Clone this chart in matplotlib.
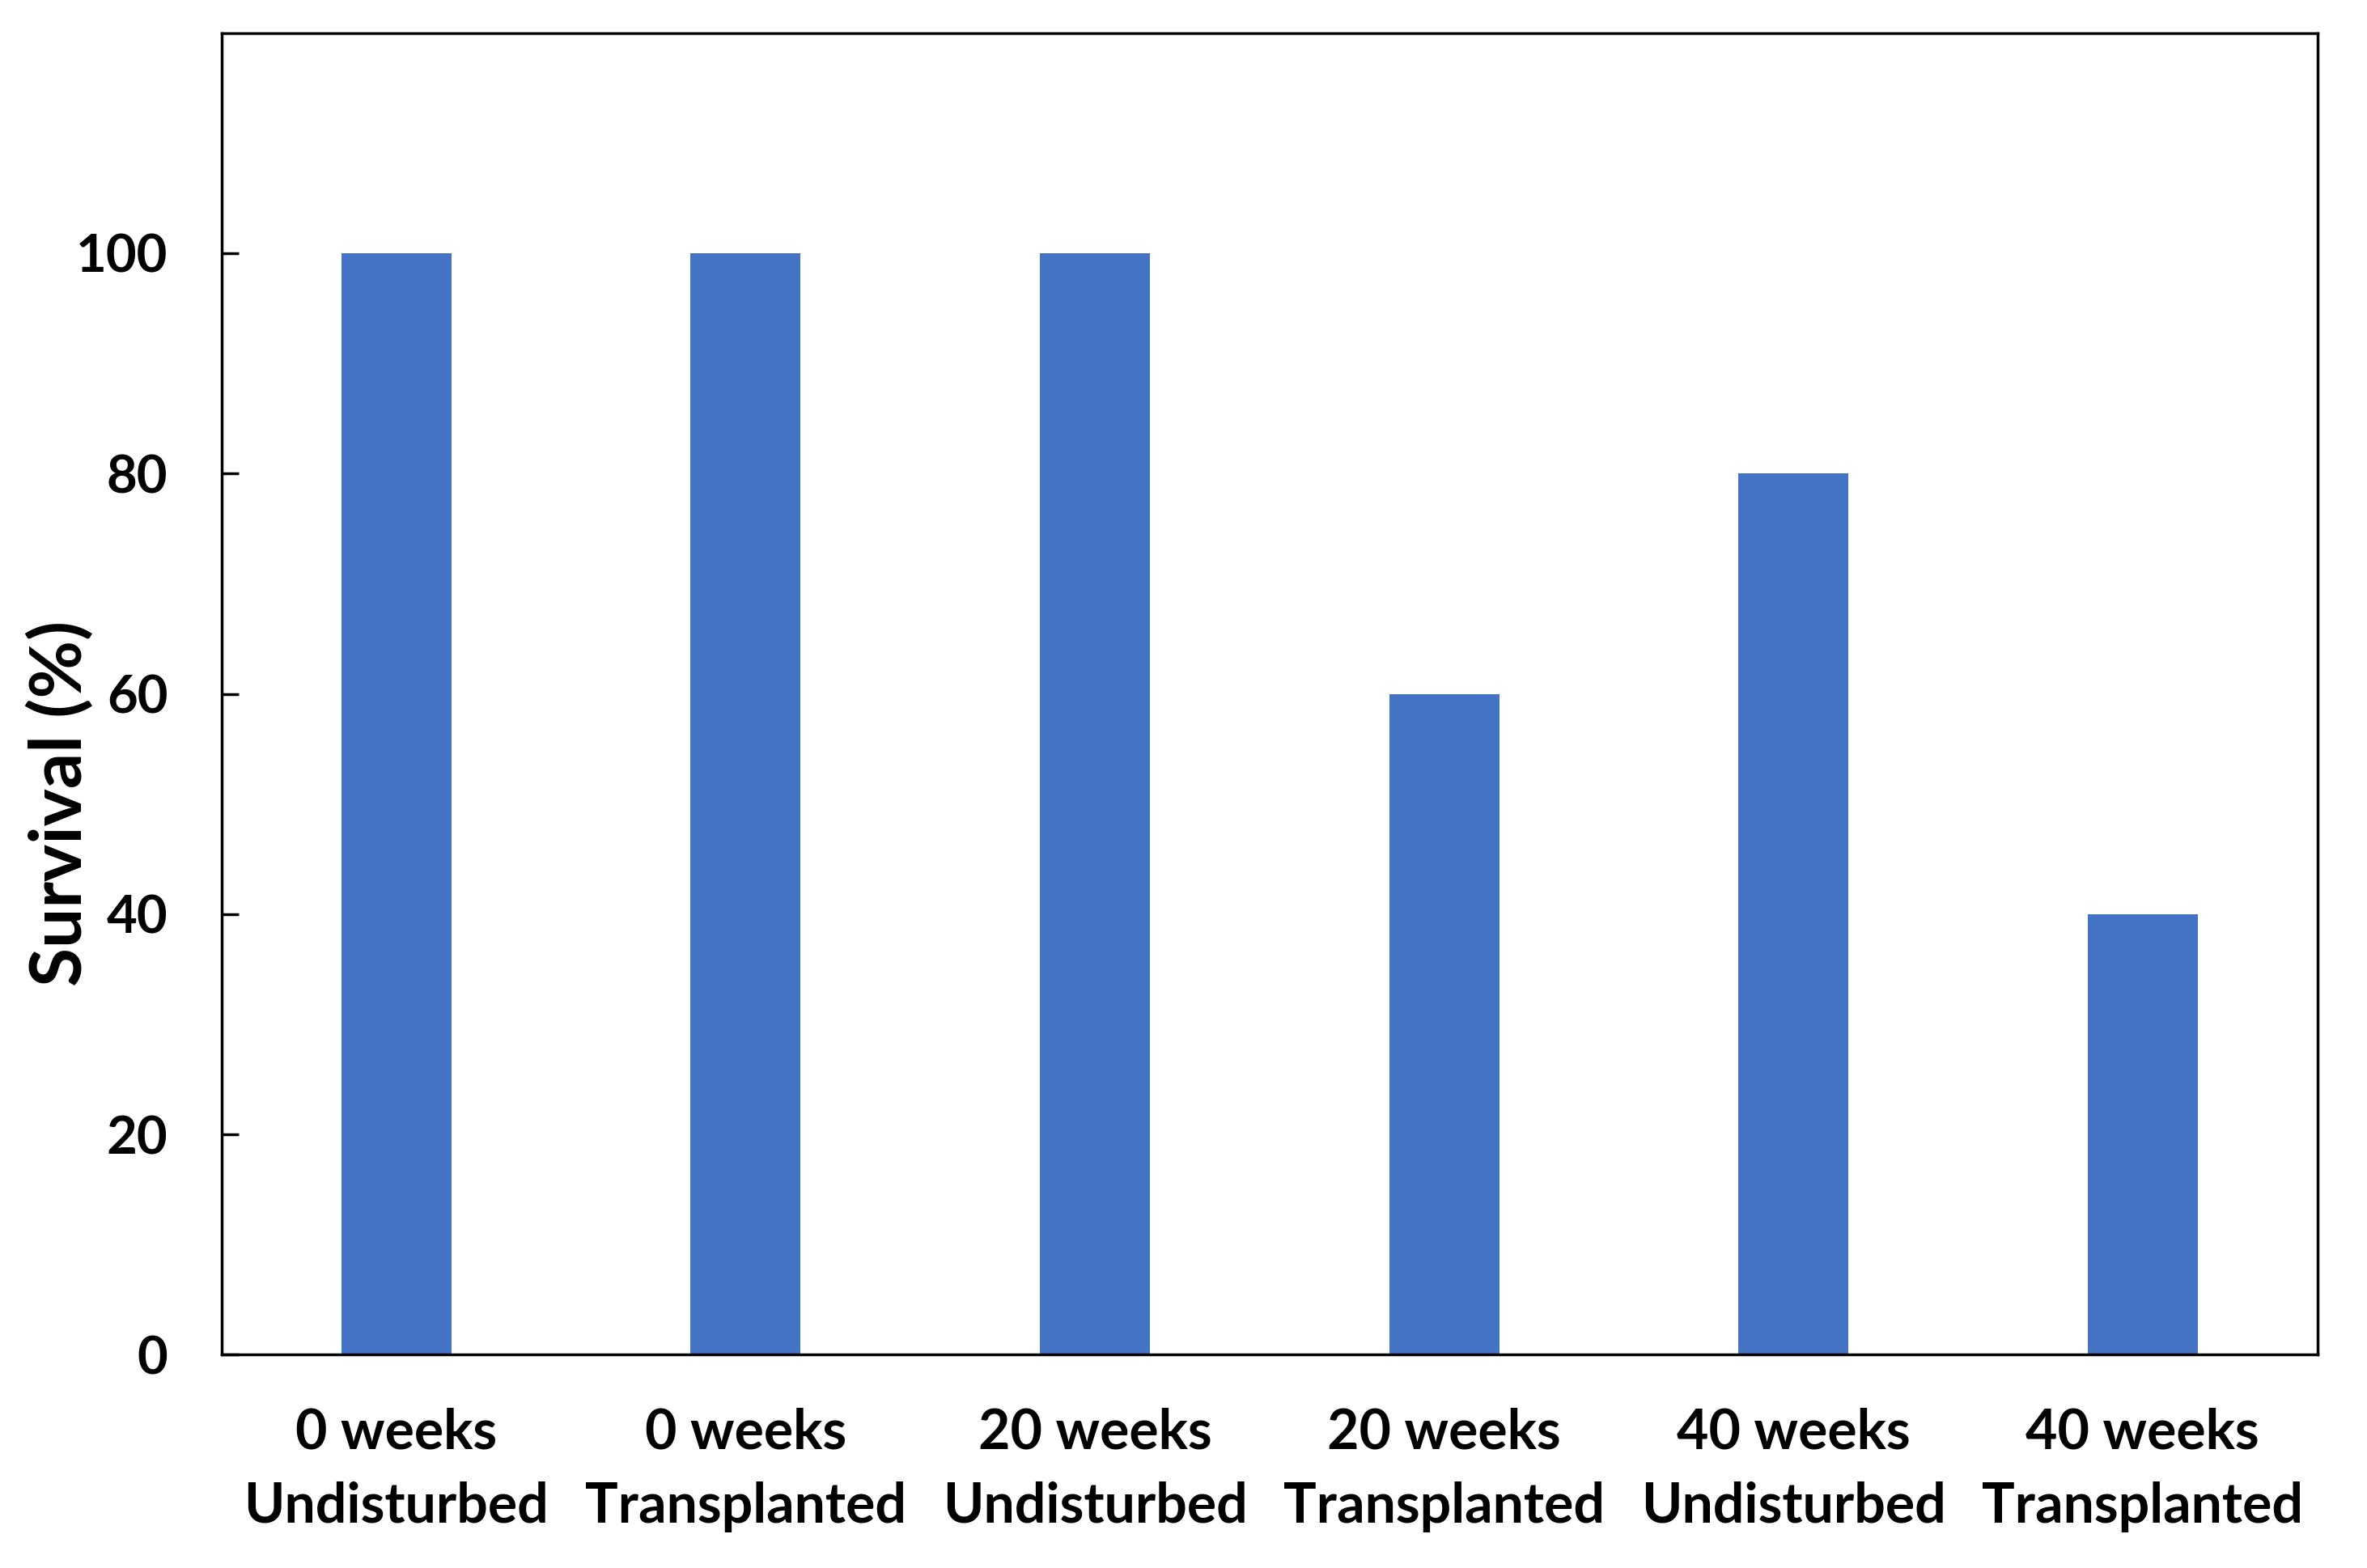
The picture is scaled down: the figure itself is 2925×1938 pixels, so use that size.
import matplotlib
matplotlib.use("Agg")
import matplotlib.pyplot as plt

categories = ["0 weeks\nUndisturbed", "0 weeks\nTransplanted", "20 weeks\nUndisturbed",
              "20 weeks\nTransplanted", "40 weeks\nUndisturbed", "40 weeks\nTransplanted"]
survival = [100, 100, 100, 60, 80, 40]
yticks = [0, 20, 40, 60, 80, 100]

plt.rcParams['font.family'] = ['Lato', 'DejaVu Sans']
plt.rcParams['font.weight'] = 'bold'

fig = plt.figure(figsize=(29.25, 19.38), dpi=100)
ax = fig.add_axes([0.0937, 0.136, 0.979 - 0.0937, 0.979 - 0.136])
x = list(range(len(categories)))
ax.bar(x, survival, width=0.315, color='#4472C4')
ax.set_xlim(-0.5, len(categories) - 0.5)
ax.set_ylim(0, 120)
ax.set_yticks(yticks)
ax.set_yticklabels([str(v) for v in yticks], fontsize=47, fontweight='bold')
ax.set_xticks(x)
ax.set_xticklabels(categories, fontsize=49, fontweight='bold', linespacing=1.55)
ax.tick_params(axis='x', length=0, pad=47)
ax.tick_params(axis='y', direction='in', length=15, width=2.5, pad=48)
for s in ax.spines.values():
    s.set_linewidth(2.5)
    s.set_color('black')
ax.set_ylabel("Survival (%)", fontsize=63, fontweight='bold', va='center')
ax.yaxis.set_label_coords(-0.077, 0.417)
fig.savefig("out.png", dpi=100)
